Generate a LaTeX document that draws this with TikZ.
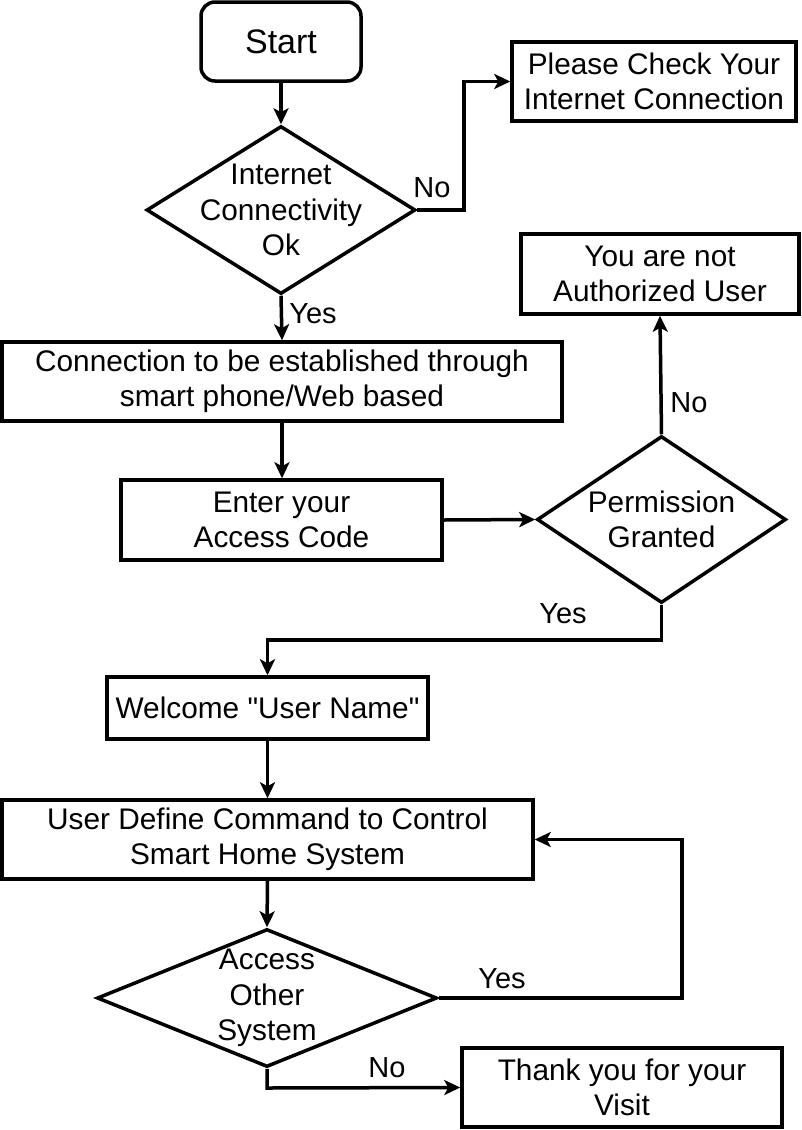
\documentclass[tikz,border=0pt]{standalone}
\usepackage{fontspec}
\setmainfont{Liberation Sans}[Ligatures=TeXOff]
\usetikzlibrary{shapes.geometric,arrows.meta}
\begin{document}
\begin{tikzpicture}[x=1pt,y=-1pt,
  every node/.style={font=\fontsize{29.8}{35.5}\selectfont},
  box/.style={draw,line width=3.5pt,rectangle,inner sep=0pt,align=center},
  startbox/.style={box,rounded corners=14pt,font=\fontsize{34}{40}\selectfont},
  decision/.style={draw,line width=3.5pt,diamond,inner sep=0pt},
  dtext/.style={align=center,inner sep=0pt},
  lbl/.style={inner sep=0pt,font=\fontsize{29}{34}\selectfont},
  conn/.style={line width=3.5pt,-{Stealth[length=16pt,width=15pt,inset=4pt]}}
]
\useasboundingbox (0,0) rectangle (801,1130);

\node[startbox,minimum width=160pt,minimum height=79pt] (start) at (281,41.5) {Start};
\node[decision,minimum width=269pt,minimum height=168pt] (d1) at (281,210) {};
\node[dtext] (d1t) at (281,210) {Internet\\Connectivity\\Ok};
\node[box,minimum width=284pt,minimum height=79pt] (please) at (654,81.5) {Please Check Your\\Internet Connection};
\node[box,minimum width=560pt,minimum height=79pt] (conn) at (282,381.5) {Connection to be established through\\smart phone/Web based};
\node[box,minimum width=321pt,minimum height=80pt] (enter) at (281.5,520) {Enter your\\Access Code};
\node[decision,minimum width=249pt,minimum height=167pt] (d2) at (661.5,519.5) {};
\node[dtext] (d2t) at (661.5,519.5) {Permission\\Granted};
\node[box,minimum width=278pt,minimum height=80pt] (notauth) at (660,274) {You are not\\Authorized User};
\node[box,minimum width=321pt,minimum height=62pt] (welcome) at (267.5,708) {Welcome "User Name"};
\node[box,minimum width=531pt,minimum height=79pt] (user) at (267.5,839.5) {User Define Command to Control\\Smart Home System};
\node[decision,minimum width=340pt,minimum height=138pt] (d3) at (267,998) {};
\node[dtext] (d3t) at (267,998) {Access\\Other\\System};
\node[box,minimum width=320pt,minimum height=79pt] (thank) at (622,1087.5) {Thank you for your\\Visit};

\coordinate (c1) at (464,210);
\coordinate (c2) at (661.5,640);
\coordinate (c3) at (682,998);
\coordinate (c4) at (267,1088);

\draw[conn] (start) -- (d1.north);
\draw[conn] (d1.east) -- (c1) |- (please.west);
\draw[conn] (d1.south) -- (conn.north);
\draw[conn] (conn.south) -- (conn.south |- enter.north);
\draw[conn] (enter.east) -- (d2.west);
\draw[conn] (d2.north) -- (notauth.south);
\draw[conn] (d2.south) -- (c2) -| (welcome.north);
\draw[conn] (welcome.south) -- (user.north);
\draw[conn] (user.south) -- (d3.north);
\draw[conn] (d3.east) -- (c3) |- (user.east);
\draw[conn] (d3.south) -- (c4) -- (thank.west);

\node[lbl] (l1) at (432,188) {No};
\node[lbl] (l2) at (313,314) {Yes};
\node[lbl] (l3) at (689,403) {No};
\node[lbl] (l4) at (563,614) {Yes};
\node[lbl] (l5) at (502,979) {Yes};
\node[lbl] (l6) at (387,1068) {No};
\end{tikzpicture}
\end{document}
